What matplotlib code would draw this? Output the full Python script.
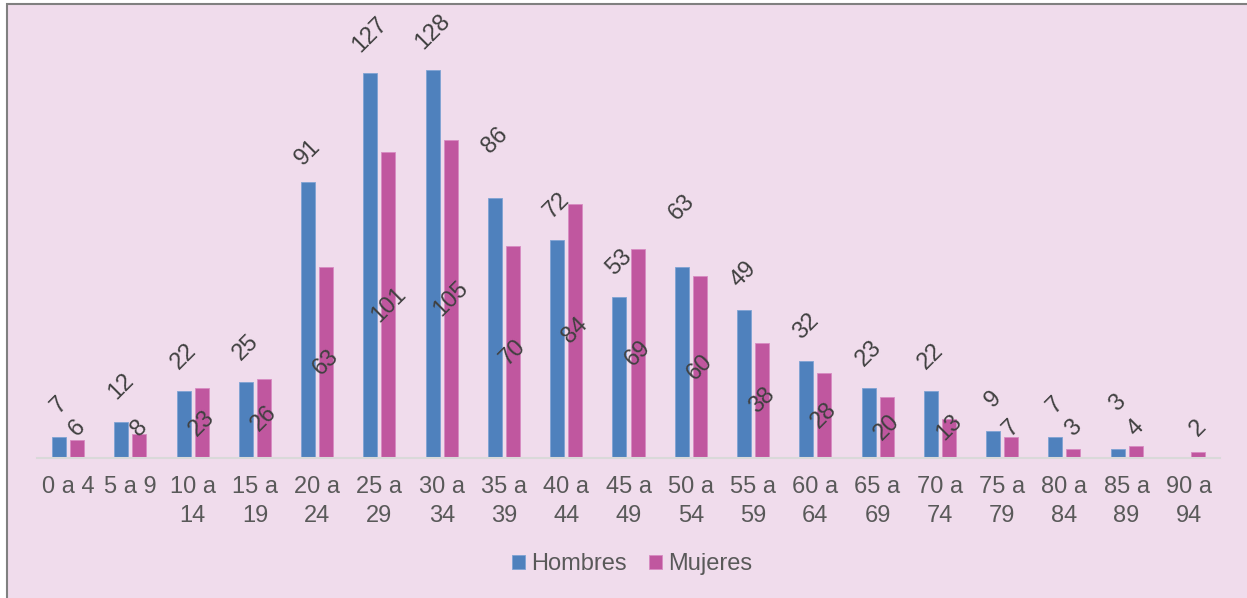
"""
Pirámide de edades en barras: Hombres y Mujeres por grupo de edad.
"""

import numpy as np
import matplotlib
matplotlib.use('Agg')
import matplotlib.pyplot as plt
from matplotlib.patches import Rectangle

# Datos
grupos = ['0 a 4', '5 a 9', '10 a\n14', '15 a\n19', '20 a\n24', '25 a\n29', '30 a\n34',
          '35 a\n39', '40 a\n44', '45 a\n49', '50 a\n54', '55 a\n59', '60 a\n64',
          '65 a\n69', '70 a\n74', '75 a\n79', '80 a\n84', '85 a\n89', '90 a\n94']
hombres = [7, 12, 22, 25, 91, 127, 128, 86, 72, 53, 63, 49, 32, 23, 22, 9, 7, 3, 0]
mujeres = [6, 8, 23, 26, 63, 101, 105, 70, 84, 69, 60, 38, 28, 20, 13, 7, 3, 4, 2]

# Estilo
azul = '#4F81BD'
magenta = '#C0579F'
fondo = '#F0DCEC'
gris_texto = '#595959'
gris_etiqueta = '#404040'
plt.rcParams['font.family'] = ['Liberation Sans', 'DejaVu Sans']

# Etiquetas de Hombres movidas a mano en el original (indice -> pixeles sobre la barra)
ajuste_hombres = {4: 30, 7: 57, 10: 60, 17: 46}

W, H = 1247, 598
fig = plt.figure(figsize=(W / 100, H / 100), dpi=100)
fig.patch.set_facecolor('white')

# Fondo rosa con borde gris (solo se ven el borde izquierdo y superior)
marco = Rectangle((7 / W, -0.1), 1.2, (H - 4) / H + 0.1, transform=fig.transFigure,
                  facecolor=fondo, edgecolor='#808080', linewidth=1.5, zorder=-10)
fig.patches.append(marco)

# Area del grafico en pixeles: x 37..1220, y 34..458
ax = fig.add_axes([37 / W, (H - 458) / H, 1183 / W, 424 / H])
ax.set_facecolor('none')

x = np.arange(len(grupos))
ancho = 0.225
desp = 0.145

ax.bar(x - desp, hombres, ancho, color=azul, edgecolor='#7FA3D3', linewidth=0.6,
       label='Hombres', zorder=2)
ax.bar(x + desp, mujeres, ancho, color=magenta, edgecolor='#D88BC2', linewidth=0.6,
       label='Mujeres', zorder=2)

ax.set_xlim(-0.5, len(grupos) - 0.5)
ax.set_ylim(0, 140)

# Etiquetas de datos, giradas 45 grados
for i, v in enumerate(hombres):
    if v == 0:
        continue
    off = ajuste_hombres.get(i, 28 + 3.5 * len(str(v)))
    ax.annotate(str(v), (x[i] - desp, v), xytext=(0, off), textcoords='offset pixels',
                ha='center', va='center', rotation=45, fontsize=17,
                color=gris_etiqueta, zorder=3)

for i, v in enumerate(mujeres):
    y = max(v / 2, 10)
    ax.annotate(str(v), (x[i] + desp, y), ha='center', va='center', rotation=45,
                fontsize=17, color=gris_etiqueta, zorder=3)

# Ejes
ax.set_xticks(x)
ax.set_xticklabels(grupos, fontsize=17, color=gris_texto, linespacing=1.4)
ax.tick_params(axis='x', length=0, pad=13)
ax.set_yticks([])
for lado in ['top', 'right', 'left']:
    ax.spines[lado].set_visible(False)
ax.spines['bottom'].set_color('#D9D9D9')
ax.spines['bottom'].set_linewidth(1.5)

# Leyenda
leyenda = fig.legend(loc='center', bbox_to_anchor=(632 / W, 1 - 564 / H), ncol=2,
                     frameon=False, fontsize=17, handlelength=0.55, handleheight=0.55,
                     handletextpad=0.25, columnspacing=0.95, borderaxespad=0)
for t in leyenda.get_texts():
    t.set_color(gris_texto)

fig.savefig('out.png', dpi=100)
